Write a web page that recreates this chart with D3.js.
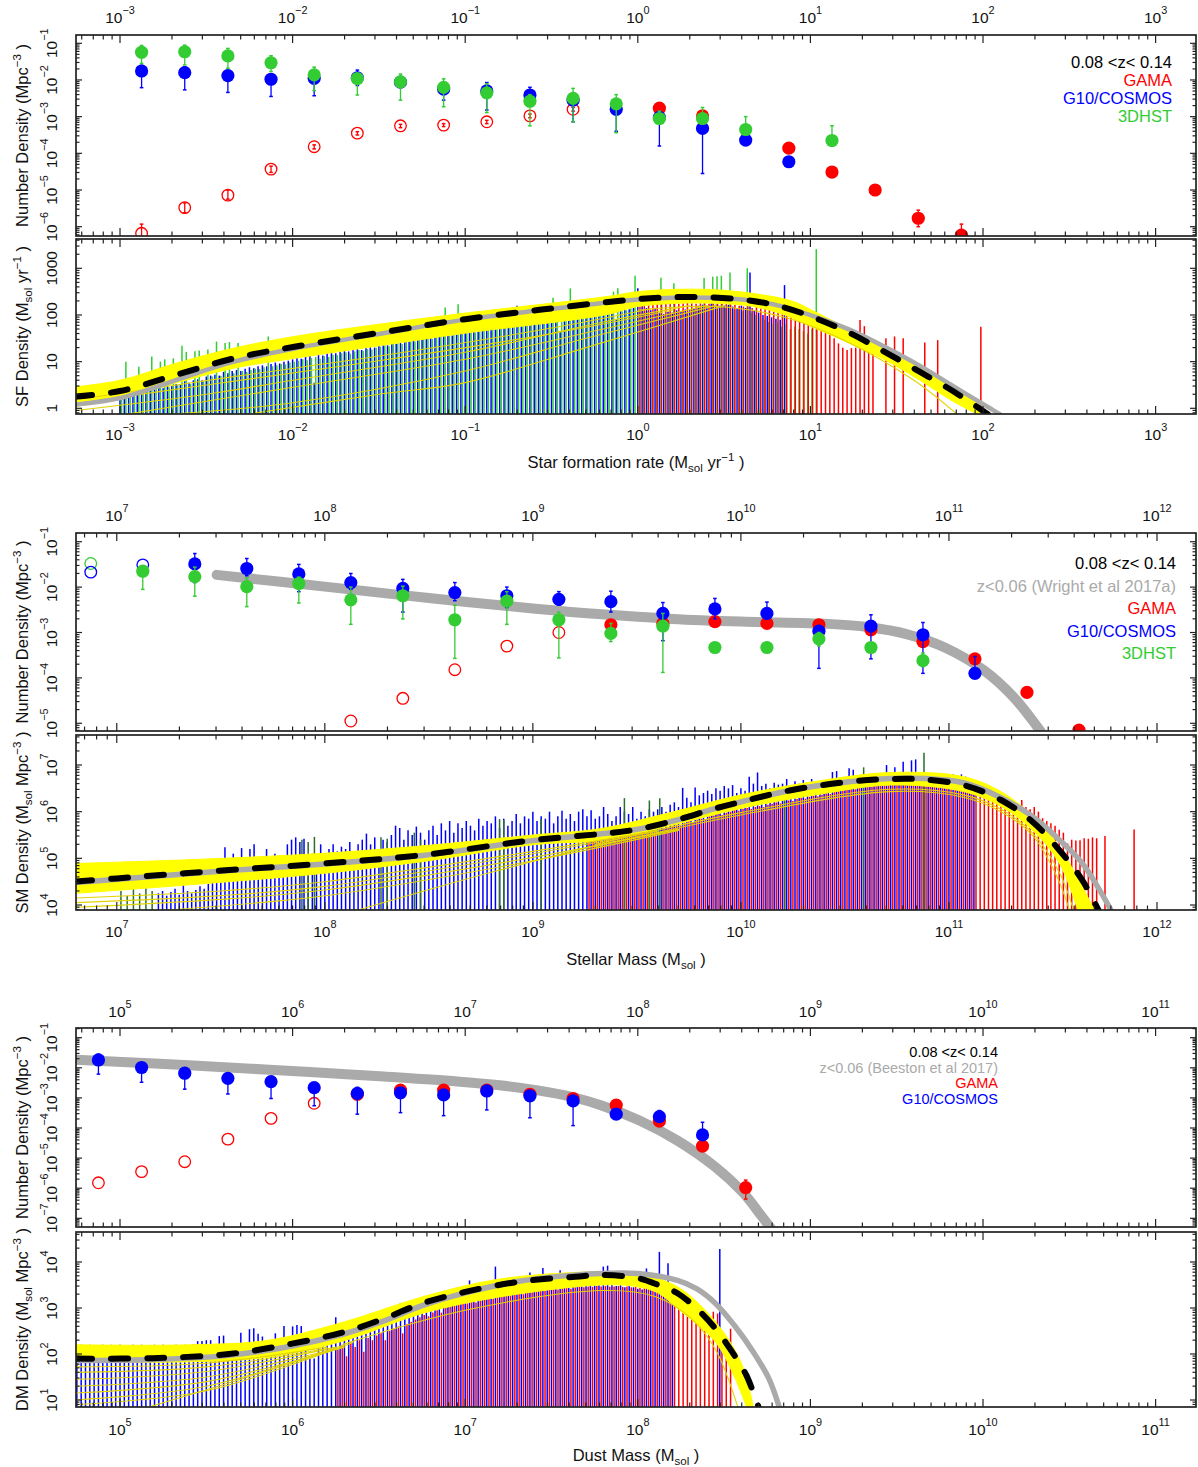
<!DOCTYPE html>
<html>
<head>
<meta charset="utf-8">
<script src="https://cdn.jsdelivr.net/npm/d3@7/dist/d3.min.js"></script>
<style>
html,body{margin:0;padding:0;background:#fff;}
svg text{font-family:"Liberation Sans",Arial,Helvetica,sans-serif;}
</style>
</head>
<body>
<svg id="chart" width="1198" height="1467"></svg>
<script>
// ================= DATA (all values are log10) =================
// ---- Star formation rate function (panel 1) ----
const sfrBins = [-2.875,-2.625,-2.375,-2.125,-1.875,-1.625,-1.375,-1.125,-0.875,-0.625,-0.375,-0.125,0.125,0.375,0.625,0.875,1.125,1.375,1.625,1.875];
const sfrGama = [null,null,null,null,null,null,null,null,null,null,null,null,-2.77,-2.98,null,-3.86,-4.51,-5.0,-5.77,-6.23];
const sfrGamaErr = [null,null,null,null,null,null,null,null,null,null,null,null,[-2.82,-2.72],[-3.05,-2.9],null,[-3.9,-3.82],[-4.56,-4.46],[-5.06,-4.94],[-6.0,-5.55],[-6.5,-5.93]];
const sfrGamaInc = [-6.18,-5.48,-5.14,-4.43,-3.82,-3.45,-3.25,-3.23,-3.14,-2.98,-2.8];
const sfrGamaIncErr = [[-6.4,-5.93],[-5.62,-5.35],[-5.25,-5.0],[-4.52,-4.35],[-3.88,-3.77],[-3.5,-3.41],[-3.3,-3.21],[-3.27,-3.19],[-3.19,-3.1],[-3.03,-2.93],[-2.85,-2.75]];
const sfrG10 = [-1.755,-1.8,-1.88,-1.98,-1.955,-1.94,-2.06,-2.25,-2.3,-2.41,-2.55,-2.8,-3.02,-3.32,-3.64,-4.23];
const sfrG10Err = [[-2.21,-1.6],[-2.27,-1.65],[-2.34,-1.75],[-2.45,-1.85],[-2.43,-1.8],[-2.15,-1.73],[-2.2,-1.95],[-2.55,-2.1],[-2.82,-2.07],[-2.6,-2.2],[-3.14,-2.45],[-3.4,-2.7],[-3.8,-2.9],[-4.55,-3.2],[-3.75,-3.55],[-4.3,-4.15]];
const sfr3d = [-1.245,-1.23,-1.345,-1.53,-1.86,-1.96,-2.05,-2.2,-2.35,-2.58,-2.5,-2.65,-3.05,-3.05,-3.35,null,-3.65];
const sfr3dErr = [[-1.55,-1.06],[-1.59,-1.05],[-1.68,-1.14],[-1.77,-1.34],[-2.29,-1.65],[-2.41,-1.85],[-2.55,-1.84],[-2.73,-1.97],[-2.89,-2.1],[-3.25,-2.4],[-3.14,-2.23],[-3.44,-2.4],[-3.2,-2.85],[-3.2,-2.75],[-3.5,-3.0],null,[-3.8,-3.25]];

// ---- SFR density (panel 2): bars on a regular bin grid ----
const sfrBarStep = 0.025;
const sfrBlueStart = -3.0;
const sfrBlue = [0.25,0.3,0.28,0.35,0.3,0.38,0.36,0.42,0.4,0.45,0.43,0.5,0.48,0.52,0.5,0.58,0.55,0.6,0.62,0.6,
 0.68,0.7,0.72,0.7,0.78,0.75,0.8,0.82,0.8,0.85,0.88,0.86,0.9,0.92,0.9,0.95,0.98,0.96,1.0,1.02,
 1.05,1.08,1.06,1.1,1.12,0.55,1.15,1.13,1.18,1.2,1.18,1.22,1.24,1.22,1.26,1.28,1.25,1.3,1.32,1.3,
 1.34,1.36,1.35,1.4,1.38,1.42,1.45,1.43,1.47,1.46,1.5,1.52,1.5,1.54,1.56,1.55,1.58,1.56,1.6,1.62,
 1.62,1.65,1.64,1.68,1.7,1.68,1.72,1.75,1.73,1.78,1.76,1.8,2.2,1.8,1.85,1.84,1.88,1.9,1.87,1.9,
 1.92,1.95,1.65,1.96,2.0,1.98,2.02,2.0,2.05,2.04,2.08,2.06,2.1,2.08,2.12,1.9,2.1,2.14,2.12,2.15,
 2.57,2.2,2.15,2.1,2.15,2.05,2.02,2.07,2.05,2.1,2.08,2.12,2.1,2.15,2.2,2.22,2.2,2.25,2.22,2.2,
 2.2,2.22,2.18,2.15,2.2,2.15,2.91,2.1,2.05,2.0,1.98,1.95,1.92,1.9,2.64];
const sfrGreenStart = -2.991;
const sfrGreen = [0.3,1.0,0.32,0.35,0.89,0.38,0.4,1.11,0.42,1.0,1.05,0.45,1.07,0.5,1.34,1.21,0.52,1.22,1.24,0.58,
 1.26,0.68,1.43,0.7,1.4,1.42,0.75,1.4,0.8,0.78,0.82,0.85,0.84,0.88,1.54,0.9,0.92,0.95,0.94,0.98,
 1.0,1.02,1.05,1.03,1.08,1.1,1.06,1.12,1.1,1.15,1.14,1.18,1.2,1.17,1.22,1.25,1.23,1.27,1.26,1.3,
 1.32,1.35,1.33,1.38,1.4,1.38,1.42,1.44,1.43,1.47,1.48,1.5,1.49,1.53,1.55,2.16,1.56,1.58,2.23,1.6,
 1.62,1.64,1.63,1.67,1.68,1.7,1.69,1.73,1.75,1.74,1.78,1.8,1.79,1.82,1.84,1.83,1.87,1.88,1.86,1.9,
 2.37,1.92,1.9,1.95,2.57,1.96,1.98,2.0,1.98,2.02,2.04,2.03,2.06,2.05,2.5,2.57,2.08,2.1,2.18,2.84,
 2.1,2.05,2.08,2.0,2.05,2.8,2.02,2.05,2.68,2.08,2.1,2.05,2.12,2.1,2.15,2.79,2.12,2.82,2.83,2.84,
 2.15,2.91,2.1,2.12,2.08,3.0,2.05,2.0,1.95,1.9,1.85,1.8,1.85,1.75,1.8,1.7,1.75,1.7,1.65,1.6,1.7,3.41];
const sfrRedStart = 0.0125;
const sfrRed = [2.2,2.22,2.25,2.24,2.25,2.23,2.25,2.26,2.25,2.24,
 2.25,2.26,2.25,2.24,2.25,2.25,2.24,2.25,2.26,2.25,
 2.24,2.23,2.22,2.2,2.18,2.2,2.15,2.17,2.14,2.15,
 2.12,2.16,2.14,2.18,2.15,2.12,2.1,2.08,2.05,2.02,
 2.0,1.96,1.85,1.75,1.64,1.5,1.39,1.3,1.25,1.29,
 1.3,1.89,1.76,1.32,1.36,null,null,1.5,null,1.54,
 null,1.5,null,null,null,null,1.41,null,null,1.46,
 null,null,null,null,null,null,null,null,null,1.75];
const sfrBandUpper = [[-3.26,0.46],[-3.0,0.6],[-2.68,0.96],[-2.34,1.29],[-1.99,1.54],[-1.46,1.82],[-1.0,2.04],[-0.19,2.39],[0.0,2.5],[0.23,2.55],[0.45,2.54],[0.67,2.46],[0.9,2.29],[1.03,2.06],[1.23,1.68],[1.43,1.27],[1.63,0.87],[1.83,0.45],[2.05,-0.13]];
const sfrBandLower = [[-3.26,0.04],[-3.0,0.21],[-2.68,0.54],[-2.34,0.86],[-1.99,1.07],[-1.46,1.36],[-1.0,1.61],[-0.19,2.0],[0.0,2.18],[0.23,2.25],[0.45,2.25],[0.67,2.18],[0.85,2.0],[1.03,1.71],[1.23,1.39],[1.43,1.04],[1.63,0.61],[1.83,0.14],[1.97,-0.13]];
const sfrFan = [
 [[-3.26,-0.05],[-2.5,0.3],[-2.0,0.6],[-1.0,1.2],[-0.2,1.85],[0.3,2.2]],
 [[-3.0,-0.15],[-2.5,0.15],[-2.0,0.45],[-1.0,1.05],[-0.2,1.7],[0.4,2.2]],
 [[-2.8,-0.15],[-2.0,0.12],[-1.0,0.8],[-0.3,1.5],[0.45,2.2]],
 [[-2.3,-0.15],[-1.5,0.3],[-1.0,0.55],[-0.3,1.3],[0.5,2.2]],
 [[-3.26,0.18],[-2.3,0.7],[-1.5,1.12],[-0.5,1.72],[0.1,2.15]],
 [[-3.26,0.1],[-2.5,0.5],[-1.5,1.02],[-0.5,1.6],[0.2,2.1]],
 [[0.0,2.1],[0.45,2.18],[0.85,1.95],[1.2,1.45],[1.6,0.6],[1.85,-0.13]]];
const sfrFit = [[-3.26,0.25],[-3.0,0.37],[-2.68,0.71],[-2.34,1.07],[-1.99,1.32],[-1.46,1.64],[-1.0,1.91],[-0.57,2.11],[-0.19,2.27],[0.0,2.34],[0.2,2.38],[0.41,2.38],[0.63,2.32],[0.83,2.18],[1.03,1.93],[1.23,1.61],[1.43,1.21],[1.63,0.79],[1.83,0.36],[2.03,-0.13]];
const sfrRef = [[-3.26,0.08],[-3.0,0.22],[-2.68,0.6],[-2.34,1.0],[-1.99,1.28],[-1.46,1.62],[-1.0,1.9],[-0.57,2.1],[-0.19,2.26],[0.0,2.33],[0.2,2.37],[0.41,2.37],[0.63,2.32],[0.83,2.19],[1.03,1.96],[1.23,1.68],[1.43,1.32],[1.63,0.92],[1.83,0.47],[2.05,-0.02],[2.1,-0.13]];

// ---- Stellar mass function (panel 3) ----
const smBins = [6.875,7.125,7.375,7.625,7.875,8.125,8.375,8.625,8.875,9.125,9.375,9.625,9.875,10.125,10.375,10.625,10.875,11.125,11.375,11.625];
const smGama = [null,null,null,null,null,null,null,null,null,null,-2.83,-2.8,-2.76,-2.8,-2.83,-2.94,-3.2,-3.58,-4.32,-5.15];
const smGamaInc = [null,null,null,null,null,-4.95,-4.45,-3.82,-3.3,-3.0];
const smG10 = [null,null,-1.49,-1.59,-1.71,-1.9,-2.03,-2.12,-2.19,-2.27,-2.32,-2.58,-2.48,-2.58,-2.97,-2.86,-3.05,-3.9];
const smG10Err = [null,null,[-1.9,-1.26],[-1.75,-1.37],[-2.1,-1.5],[-2.05,-1.7],[-2.55,-1.83],[-2.3,-1.9],[-2.45,-2.0],[-2.4,-2.1],[-2.55,-2.09],[-3.18,-2.34],[-2.7,-2.25],[-2.7,-2.33],[-3.79,-2.85],[-3.58,-2.61],[-3.9,-2.78],[-3.95,-3.53]];
const smG10Inc = [-1.67,-1.51];
const sm3d = [null,-1.65,-1.77,-1.99,-1.92,-2.28,-2.19,-2.72,-2.31,-2.72,-3.02,-2.86,-3.33,-3.33,-3.14,-3.33,-3.62];
const sm3dErr = [null,[-2.05,-1.55],[-2.2,-1.56],[-2.43,-1.8],[-2.35,-1.78],[-2.82,-2.0],[-2.7,-1.98],[-3.57,-2.4],[-2.82,-2.1],[-3.56,-2.55],[-3.2,-2.8],[-3.88,-2.58],null,null,[-3.3,-3.0],null,[-3.75,-3.45]];
const sm3dInc = [-1.48];
const smWright = [[7.48,-1.73],[8.0,-1.99],[8.5,-2.24],[9.0,-2.47],[9.33,-2.6],[9.67,-2.7],[10.0,-2.76],[10.42,-2.81],[10.61,-2.88],[10.8,-3.04],[10.98,-3.33],[11.17,-3.84],[11.31,-4.42],[11.42,-5.05],[11.52,-5.7]];

// ---- SM density (panel 4) ----
const smBarStep = 0.02;
const smBlueStart = 7.2;
const smBlue = [4.25,4.3,4.2,4.28,4.35,4.22,4.9,4.3,4.25,4.32,
 4.4,4.35,4.45,4.6,4.5,4.55,5.24,4.6,5.1,4.7,
 5.22,4.7,5.2,5.3,4.8,5.05,5.2,4.8,5.1,4.9,
 5.0,5.3,5.4,5.45,5.35,5.42,4.9,5.1,5.0,5.3,
 5.1,5.2,5.3,5.15,5.25,5.2,5.35,5.1,5.3,5.4,
 5.53,5.3,5.45,5.2,5.4,5.35,5.5,5.7,5.65,5.4,
 5.6,5.5,5.68,5.55,5.4,5.6,5.7,5.5,5.75,5.6,
 5.8,5.55,5.75,5.65,5.8,5.7,5.6,5.85,5.7,5.8,
 5.75,5.9,5.65,5.85,5.7,5.8,5.95,5.75,5.9,5.85,
 6.0,5.8,5.9,5.85,6.0,5.75,5.9,6.02,5.85,5.95,
 5.8,6.0,6.05,5.9,6.03,5.85,5.9,6.1,5.95,5.8,
 5.9,6.1,6.0,5.95,6.1,5.85,6.0,5.9,6.05,6.0,
 6.05,6.1,6.0,6.15,6.2,6.1,6.51,6.3,6.2,6.52,
 6.35,6.4,6.45,6.38,6.5,6.45,6.55,6.5,6.57,6.4,
 6.5,6.45,6.75,6.6,6.84,6.55,6.6,6.5,6.62,6.58,
 6.6,6.7,6.55,6.65,6.6,6.68,6.62,6.7,6.6,6.65,
 6.65,6.7,6.85,6.87,6.72,6.68,6.93,6.9,6.75,6.7,
 6.72,6.8,6.75,6.78,6.8,7.0,6.85,6.95,6.8,7.07,
 6.85,7.1,7.12,6.8,6.75,6.7,6.78,6.72,6.7,6.65,
 6.7,6.8,6.78,6.8,6.75,6.6,6.5];
const smRedStart = 9.27;
const smRed = [5.38,5.4,5.42,5.41,5.44,5.45,5.43,5.47,5.48,5.5,
 5.52,5.5,5.55,5.57,5.56,5.6,5.62,5.6,5.65,5.67,
 5.7,5.72,5.7,5.76,5.8,5.78,5.83,5.85,5.84,5.9,
 5.92,5.95,5.93,5.98,6.0,6.03,6.02,6.06,6.08,6.06,
 6.1,6.12,6.1,6.15,6.17,6.2,6.18,6.22,6.24,6.23,
 6.27,6.3,6.28,6.32,6.34,6.33,6.37,6.4,6.38,6.42,
 6.44,6.45,6.47,6.5,6.48,6.52,6.54,6.53,6.56,6.57,
 6.58,6.6,6.59,6.61,6.6,6.62,6.6,6.61,6.6,6.59,
 6.58,6.57,6.56,6.55,6.53,6.52,6.5,6.48,6.47,6.45,
 6.44,6.42,6.4,6.38,6.35,6.33,6.3,6.28,6.43,6.26,
 6.2,6.22,6.18,6.15,6.25,6.1,6.05,6.1,6.0,5.86,
 5.8,5.75,5.7,5.61,5.55,5.32,5.4,5.38,5.39,5.43,
 5.42,5.45,5.43,null,5.48,null,null,null,null,null,null,5.62];
const smGreenBars = [[7.02,4.3],[7.05,4.2],[7.08,4.35],[7.11,4.25],[7.14,4.4],[7.17,4.3],[7.89,5.4],[7.92,5.35],[7.95,5.46],[8.27,5.45],[8.3,5.42],[8.43,5.55],[8.46,5.4],[8.84,5.84],[8.86,5.82],[9.04,5.84],[9.44,6.29],[9.56,6.24],[9.61,6.29],[10.21,6.54],[10.59,6.95],[10.88,7.26]];
const smBandUpper = [[6.8,4.89],[7.4,4.98],[8.0,5.11],[8.5,5.28],[9.0,5.5],[9.33,5.64],[9.66,5.98],[10.0,6.36],[10.36,6.65],[10.72,6.84],[11.07,6.75],[11.25,6.43],[11.4,5.92],[11.53,5.25],[11.64,4.4],[11.7,3.88]];
const smBandLower = [[6.8,4.25],[7.4,4.45],[8.0,4.68],[8.5,4.95],[9.0,5.29],[9.33,5.39],[9.66,5.7],[10.0,6.07],[10.36,6.36],[10.72,6.57],[11.07,6.43],[11.25,6.11],[11.4,5.61],[11.53,4.9],[11.62,3.88]];
const smFan = [
 [[6.8,4.15],[7.5,4.3],[8.0,4.5],[9.0,5.15],[9.6,5.6]],
 [[6.8,4.05],[7.5,4.2],[8.0,4.4],[9.0,5.1],[9.6,5.58]],
 [[6.8,3.95],[7.5,4.12],[8.0,4.32],[9.0,5.02],[9.7,5.62]],
 [[7.2,3.88],[8.0,4.2],[9.0,4.95],[9.7,5.6]],
 [[8.15,3.88],[8.8,4.7],[9.33,5.3],[9.7,5.62]],
 [[9.3,5.3],[10.0,5.98],[10.72,6.48],[11.07,6.36],[11.25,6.05],[11.4,5.55],[11.53,4.7],[11.6,3.88]],
 [[9.3,5.25],[10.0,5.93],[10.72,6.43],[11.07,6.31],[11.25,6.0],[11.4,5.5],[11.52,4.6],[11.58,3.88]]];
const smFit = [[6.8,4.5],[7.0,4.57],[7.54,4.75],[8.0,4.89],[8.47,5.07],[9.0,5.39],[9.32,5.52],[9.5,5.62],[9.69,5.82],[9.87,6.06],[10.0,6.21],[10.24,6.46],[10.52,6.64],[10.72,6.7],[10.88,6.69],[11.07,6.57],[11.25,6.25],[11.4,5.79],[11.53,5.18],[11.64,4.54],[11.72,3.88]];
const smRef = [[6.8,4.48],[7.0,4.55],[7.54,4.74],[8.0,4.88],[8.47,5.06],[9.0,5.38],[9.32,5.52],[9.5,5.62],[9.69,5.82],[9.87,6.06],[10.0,6.21],[10.24,6.46],[10.52,6.64],[10.72,6.71],[10.88,6.71],[11.07,6.62],[11.25,6.3],[11.4,5.9],[11.53,5.4],[11.64,4.9],[11.72,4.35],[11.78,3.88]];

// ---- Dust mass function (panel 5) ----
const dmBins = [4.875,5.125,5.375,5.625,5.875,6.125,6.375,6.625,6.875,7.125,7.375,7.625,7.875,8.125,8.375,8.625];
const dmG10 = [-1.74,-1.99,-2.18,-2.35,-2.46,-2.66,-2.85,-2.83,-2.9,-2.77,-2.93,-3.1,-3.54,-3.62,-4.23];
const dmG10Err = [[-2.21,-1.55],[-2.48,-1.85],[-2.71,-2.05],[-2.87,-2.22],[-3.02,-2.35],[-3.26,-2.52],[-3.54,-2.65],[-3.49,-2.7],[-3.59,-2.75],[-3.4,-2.62],[-3.66,-2.78],[-3.92,-2.95],[-3.62,-3.45],[-3.7,-3.42],[-4.3,-3.81]];
const dmGama = [null,null,null,null,null,null,-2.88,-2.74,-2.74,-2.74,-2.88,-3.02,-3.24,-3.77,-4.6,-5.98];
const dmGamaErr = [null,null,null,null,null,null,null,null,null,null,null,null,null,null,null,[-6.36,-5.73]];
const dmGamaInc = [-5.82,-5.45,-5.12,-4.37,-3.68,-3.18];
const dmBeeston = [[4.745,-1.73],[5.2,-1.86],[5.63,-1.99],[6.1,-2.14],[6.53,-2.29],[6.97,-2.46],[7.2,-2.58],[7.42,-2.75],[7.62,-2.97],[7.79,-3.25],[8.01,-3.75],[8.23,-4.42],[8.45,-5.3],[8.61,-6.15],[8.72,-6.95],[8.8,-7.55]];

// ---- DM density (panel 6) ----
const dmBarStep = 0.025;
const dmBlueStart = 4.75;
const dmBlue = [2.18,2.2,2.15,2.2,2.0,2.18,2.2,2.1,2.2,2.19,
 2.2,2.05,2.18,2.2,2.15,2.2,2.0,2.19,2.2,2.1,
 2.2,2.18,2.0,2.2,2.15,2.2,2.1,2.21,2.28,2.28,
 2.3,2.3,2.2,2.39,2.4,2.1,2.2,2.2,2.46,2.2,
 2.54,2.56,2.44,2.38,2.1,2.2,2.45,2.3,2.61,2.3,
 2.6,2.63,2.61,2.3,1.9,1.9,2.45,2.3,2.4,2.55,
 2.8,2.45,2.5,2.55,2.6,2.5,2.65,2.78,2.6,2.7,
 2.75,2.8,2.85,2.8,2.9,3.11,2.95,2.9,3.0,3.0,
 3.05,3.0,3.1,3.05,3.15,3.1,3.2,3.15,3.44,3.2,
 3.25,3.6,3.2,3.3,3.25,3.35,3.3,3.9,3.35,3.3,
 3.4,3.35,3.45,3.4,3.45,3.77,3.4,3.45,3.87,3.45,
 3.5,3.45,3.82,3.5,3.45,3.5,3.48,3.5,3.52,3.5,
 3.5,3.52,3.9,3.92,3.5,3.48,3.5,3.45,3.48,3.45,
 3.42,3.4,3.86,3.4,3.35,4.22,3.3,3.97,3.2,null,
 null,null,null,null,null,null,null,null,null,4.28,null];
const dmRedStart = 6.2625;
const dmRed = [2.1,2.2,1.95,2.25,2.15,2.3,2.05,2.35,2.3,2.4,
 2.45,2.3,2.5,2.55,2.6,2.45,2.65,2.7,2.75,2.8,
 2.85,2.82,2.9,2.95,2.9,3.0,3.02,3.05,3.08,3.1,
 3.1,3.15,3.12,3.18,3.2,3.22,3.2,3.25,3.27,3.26,
 3.3,3.28,3.32,3.3,3.35,3.34,3.36,3.38,3.37,3.4,
 3.42,3.4,3.43,3.44,3.42,3.45,3.46,3.45,3.47,3.46,
 3.48,3.47,3.48,3.46,3.47,3.48,3.46,3.47,3.45,3.46,
 3.44,3.43,3.42,3.4,3.38,3.36,3.34,3.3,3.28,3.24,
 3.15,3.09,3.04,2.99,2.93,2.88,2.74,2.92,2.88,2.22,2.36,2.55];
const dmBandUpper = [[4.74,2.2],[5.41,2.2],[5.86,2.3],[6.3,2.7],[6.75,3.24],[7.2,3.63],[7.79,3.79],[8.0,3.75],[8.23,3.46],[8.45,2.7],[8.6,1.8],[8.67,0.84]];
const dmBandLower = [[4.74,1.83],[5.41,1.83],[5.86,1.93],[6.3,2.29],[6.75,2.88],[7.2,3.24],[7.79,3.5],[8.0,3.46],[8.12,3.32],[8.23,2.99],[8.45,2.26],[8.56,1.5],[8.63,0.84]];
const dmFan = [
 [[4.74,1.72],[5.5,1.8],[6.2,2.15]],
 [[4.74,1.6],[5.5,1.72],[6.2,2.12]],
 [[4.74,1.45],[5.5,1.62],[6.25,2.15]],
 [[4.74,1.3],[5.5,1.5],[6.25,2.12]],
 [[4.74,1.15],[5.5,1.4],[6.3,2.15]],
 [[4.74,1.0],[5.5,1.3],[6.3,2.2]],
 [[4.74,0.9],[5.5,1.2],[6.35,2.25]],
 [[5.16,0.84],[5.7,1.45],[6.26,2.12]],
 [[6.3,2.22],[7.0,2.95],[7.8,3.38],[8.1,3.25],[8.3,2.8],[8.45,2.1],[8.58,0.84]]];
const dmFit = [[4.74,1.9],[5.19,1.91],[5.63,2.0],[5.99,2.22],[6.3,2.48],[6.53,2.77],[6.75,3.1],[7.0,3.35],[7.31,3.57],[7.64,3.68],[7.79,3.72],[8.0,3.65],[8.12,3.5],[8.23,3.32],[8.34,2.99],[8.45,2.55],[8.56,1.97],[8.63,1.53],[8.7,0.84]];
const dmRef = [[4.74,1.86],[5.19,1.88],[5.63,1.97],[5.99,2.17],[6.3,2.44],[6.53,2.72],[6.75,3.05],[7.0,3.33],[7.31,3.58],[7.64,3.72],[7.79,3.75],[8.0,3.75],[8.23,3.6],[8.34,3.42],[8.45,3.1],[8.56,2.62],[8.67,2.04],[8.76,1.46],[8.82,0.84]];

// ---- tick labels (exponents) ----
const sfrXTicks = [-3,-2,-1,0,1,2,3];
const smXTicks = [7,8,9,10,11,12];
const dmXTicks = [5,6,7,8,9,10,11];
const sfrNTicks = [-6,-5,-4,-3,-2,-1];
const sfrDTicks = [0,1,2,3];
const smNTicks = [-5,-4,-3,-2,-1];
const smDTicks = [4,5,6,7];
const dmNTicks = [-7,-6,-5,-4,-3,-2,-1];
const dmDTicks = [1,2,3,4];

// ================= LAYOUT & STYLE =================
const L = 76, R = 1196;
const RED = '#ff0000', BLUE = '#0000ff', GREEN = '#33cc33', DKGREEN = '#2a6e2a', GRAY = '#aaaaaa', YEL = '#ffff00', YLINE = '#e2d400';
const TICKFS = 15.5, TITLEFS = 16.5, LEGFS = 16.5;
const svg = d3.select('#chart');
const defs = svg.append('defs');

function makePanel(id, top, bottom, xd, yd){
  const x = d3.scaleLog().domain([10**xd[0], 10**xd[1]]).range([L, R]);
  const y = d3.scaleLog().domain([10**yd[0], 10**yd[1]]).range([bottom, top]);
  defs.append('clipPath').attr('id','clip'+id).append('rect')
    .attr('x',L).attr('y',top).attr('width',R-L).attr('height',bottom-top);
  const g = svg.append('g');
  const plot = g.append('g').attr('clip-path',`url(#clip${id})`);
  return {g, plot, top, bottom, xd, yd, X: v => x(10**v), Y: v => y(10**v)};
}

function rich(sel, parts, fs, supRaise, subDrop){
  let cur = 0;
  parts.forEach(p => {
    const want = p.sup ? -fs*supRaise : (p.sub ? fs*subDrop : 0);
    const ts = sel.append('tspan').text(p.t);
    if (want !== cur) ts.attr('dy', want - cur);
    if (p.sup || p.sub) ts.attr('font-size', fs*0.7);
    cur = want;
  });
}
const expParts = e => [{t:'10'},{t:(e<0?'\u2212'+(-e):String(e)), sup:true}];

function axes(P, opt){
  const g = P.g.append('g').attr('stroke','#222').attr('stroke-width',1.2);
  const lines = [];
  for (let e=Math.floor(P.xd[0]); e<=Math.ceil(P.xd[1]); e++){
    for (let m=1; m<=9; m++){
      const v = e + Math.log10(m);
      if (v < P.xd[0] || v > P.xd[1]) continue;
      const len = m===1 ? 8 : 4.5, px = P.X(v);
      lines.push([px,P.top,px,P.top+len],[px,P.bottom,px,P.bottom-len]);
    }
  }
  for (let e=Math.floor(P.yd[0]); e<=Math.ceil(P.yd[1]); e++){
    for (let m=1; m<=9; m++){
      const v = e + Math.log10(m);
      if (v < P.yd[0] || v > P.yd[1]) continue;
      const len = m===1 ? 6 : 3.5, py = P.Y(v);
      lines.push([L,py,L+len,py],[R,py,R-len,py]);
    }
  }
  g.selectAll('line').data(lines).join('line')
    .attr('x1',d=>d[0]).attr('y1',d=>d[1]).attr('x2',d=>d[2]).attr('y2',d=>d[3]);
  P.g.append('rect').attr('x',L).attr('y',P.top).attr('width',R-L).attr('height',P.bottom-P.top)
    .attr('fill','none').attr('stroke','#222').attr('stroke-width',1.7);
  if (opt.xTicks){
    opt.xTicks.forEach(e => {
      const t = P.g.append('text').attr('x',P.X(e)).attr('y',opt.xLabelY)
        .attr('text-anchor','middle').attr('font-size',TICKFS).attr('fill','#111');
      rich(t, expParts(e), TICKFS, 0.55, 0);
    });
  }
  opt.yTicks.forEach(e => {
    const t = P.g.append('text').attr('transform',`translate(57,${P.Y(e)}) rotate(-90)`)
      .attr('text-anchor','middle').attr('font-size',TICKFS).attr('fill','#111');
    rich(t, opt.plainY ? [{t:String(10**e)}] : expParts(e), TICKFS, 0.55, 0);
  });
  const yt = P.g.append('text').attr('transform',`translate(28,${(P.top+P.bottom)/2}) rotate(-90)`)
    .attr('text-anchor','middle').attr('font-size',TITLEFS).attr('fill','#111');
  rich(yt, opt.yTitle, TITLEFS, 0.45, 0.25);
}

function xTitle(parts, y){
  const t = svg.append('text').attr('x',(L+R)/2).attr('y',y).attr('text-anchor','middle')
    .attr('font-size',TITLEFS).attr('fill','#111');
  rich(t, parts, TITLEFS, 0.45, 0.25);
}

function gridBars(P, start, step, heights, color, w){
  const data = heights.map((h,i)=>({x:start+i*step, h})).filter(d=>d.h!=null);
  P.plot.append('g').selectAll('line').data(data).join('line')
    .attr('x1',d=>P.X(d.x)).attr('x2',d=>P.X(d.x))
    .attr('y1',P.bottom+2).attr('y2',d=>P.Y(d.h))
    .attr('stroke',color).attr('stroke-width',w);
}
function pairBars(P, pairs, color, w){
  P.plot.append('g').selectAll('line').data(pairs).join('line')
    .attr('x1',d=>P.X(d[0])).attr('x2',d=>P.X(d[0]))
    .attr('y1',P.bottom+2).attr('y2',d=>P.Y(d[1]))
    .attr('stroke',color).attr('stroke-width',w);
}
function lineGen(P){
  return d3.line().x(d=>P.X(d[0])).y(d=>P.Y(d[1])).curve(d3.curveCatmullRom.alpha(0.5));
}
function band(P, up, lo){
  const ln = lineGen(P);
  const a = ln(up), b = ln(lo.slice().reverse());
  P.plot.append('path').attr('d', a + 'L' + b.slice(1) + 'Z').attr('fill',YEL).attr('stroke',YEL).attr('stroke-width',1);
}
function curve(P, pts, color, w, dash){
  const p = P.plot.append('path').attr('d', lineGen(P)(pts)).attr('fill','none')
    .attr('stroke',color).attr('stroke-width',w).attr('stroke-linecap','round').attr('stroke-linejoin','round');
  if (dash) p.attr('stroke-dasharray',dash);
}
function points(P, bins, vals, errs, color, open){
  const g = P.plot.append('g');
  vals.forEach((v,i) => {
    if (v == null) return;
    const cx = P.X(bins[i]);
    const e = errs ? errs[i] : null;
    if (e){
      g.append('line').attr('x1',cx).attr('x2',cx).attr('y1',P.Y(e[0])).attr('y2',P.Y(e[1]))
        .attr('stroke',color).attr('stroke-width',1.3);
      [e[0],e[1]].forEach(ev => g.append('line').attr('x1',cx-1.8).attr('x2',cx+1.8)
        .attr('y1',P.Y(ev)).attr('y2',P.Y(ev)).attr('stroke',color).attr('stroke-width',1.5));
    }
    const c = g.append('circle').attr('cx',cx).attr('cy',P.Y(v));
    if (open) c.attr('r',5.8).attr('fill','none').attr('stroke',color).attr('stroke-width',1.3);
    else c.attr('r',6.6).attr('fill',color);
  });
}
function legend(xr, y0, dy, items, fs){
  items.forEach((it,i) => svg.append('text').attr('x',xr).attr('y',y0+i*dy).attr('text-anchor','end')
    .attr('font-size',fs).attr('fill',it[1]).text(it[0]));
}

const nTitle = [{t:'Number Density (Mpc'},{t:'\u22123',sup:true},{t:' )'}];

// ================= PANEL 1 : SFR function =================
const p1 = makePanel('p1', 35, 236, [-3.255,3.234], [-6.254,-0.774]);
points(p1, sfrBins, sfrGamaInc, sfrGamaIncErr, RED, true);
points(p1, sfrBins, sfrGama, sfrGamaErr, RED, false);
points(p1, sfrBins, sfrG10, sfrG10Err, BLUE, false);
points(p1, sfrBins, sfr3d, sfr3dErr, GREEN, false);
axes(p1, {xTicks:sfrXTicks, xLabelY:23, yTicks:sfrNTicks, yTitle:nTitle});
legend(1172, 68, 18, [['0.08 <z< 0.14','#000'],['GAMA',RED],['G10/COSMOS',BLUE],['3DHST',GREEN]], LEGFS);

// ================= PANEL 2 : SFR density =================
const p2 = makePanel('p2', 239, 414, [-3.255,3.234], [-0.122,3.628]);
gridBars(p2, sfrBlueStart, sfrBarStep, sfrBlue, BLUE, 1.5);
gridBars(p2, sfrGreenStart, sfrBarStep, sfrGreen, GREEN, 1.5);
gridBars(p2, sfrRedStart, sfrBarStep, sfrRed, RED, 1.5);
band(p2, sfrBandUpper, sfrBandLower);
sfrFan.forEach(f => curve(p2, f, YLINE, 1.1));
curve(p2, sfrRef, GRAY, 4.5);
curve(p2, sfrFit, '#000', 6, '17 19');
axes(p2, {xTicks:sfrXTicks, xLabelY:440, yTicks:sfrDTicks, plainY:true,
  yTitle:[{t:'SF Density (M'},{t:'sol',sub:true},{t:' yr'},{t:'\u22121',sup:true},{t:' )'}]});
xTitle([{t:'Star formation rate (M'},{t:'sol',sub:true},{t:' yr'},{t:'\u22121',sup:true},{t:' )'}], 468);

// ================= PANEL 3 : Stellar mass function =================
const p3 = makePanel('p3', 533, 731, [6.804,12.1875], [-5.17,-0.808]);
curve(p3, smWright, GRAY, 10);
points(p3, smBins, smGamaInc, null, RED, true);
points(p3, smBins, sm3dInc, null, GREEN, true);
points(p3, smBins, smG10Inc, null, BLUE, true);
points(p3, smBins, smGama, null, RED, false);
points(p3, smBins, smG10, smG10Err, BLUE, false);
points(p3, smBins, sm3d, sm3dErr, GREEN, false);
axes(p3, {xTicks:smXTicks, xLabelY:521, yTicks:smNTicks, yTitle:nTitle});
legend(1176, 569, 22.5, [['0.08 <z< 0.14','#000'],['z<0.06 (Wright et al 2017a)',GRAY],['GAMA',RED],['G10/COSMOS',BLUE],['3DHST',GREEN]], LEGFS);

// ================= PANEL 4 : SM density =================
const p4 = makePanel('p4', 735, 910, [6.804,12.1875], [3.893,7.643]);
gridBars(p4, smBlueStart, smBarStep, smBlue, BLUE, 1.5);
gridBars(p4, smRedStart, smBarStep, smRed, RED, 1.5);
pairBars(p4, smGreenBars, DKGREEN, 1.5);
band(p4, smBandUpper, smBandLower);
smFan.forEach(f => curve(p4, f, YLINE, 1.1));
curve(p4, smRef, GRAY, 5.5);
curve(p4, smFit, '#000', 6, '17 19');
axes(p4, {xTicks:smXTicks, xLabelY:937, yTicks:smDTicks,
  yTitle:[{t:'SM Density (M'},{t:'sol',sub:true},{t:' Mpc'},{t:'\u22123',sup:true},{t:' )'}]});
xTitle([{t:'Stellar Mass (M'},{t:'sol',sub:true},{t:' )'}], 965);

// ================= PANEL 5 : Dust mass function =================
const p5 = makePanel('p5', 1028, 1227, [4.745,11.234], [-7.289,-0.678]);
curve(p5, dmBeeston, GRAY, 10);
points(p5, dmBins, dmGamaInc, null, RED, true);
points(p5, dmBins, dmGama, dmGamaErr, RED, false);
points(p5, dmBins, dmG10, dmG10Err, BLUE, false);
axes(p5, {xTicks:dmXTicks, xLabelY:1017, yTicks:dmNTicks, yTitle:nTitle});
legend(998, 1057, 15.5, [['0.08 <z< 0.14','#000'],['z<0.06 (Beeston et al 2017)',GRAY],['GAMA',RED],['G10/COSMOS',BLUE]], 14.5);

// ================= PANEL 6 : DM density =================
const p6 = makePanel('p6', 1232, 1407, [4.745,11.234], [0.848,4.652]);
gridBars(p6, dmBlueStart, dmBarStep, dmBlue, BLUE, 1.5);
gridBars(p6, dmRedStart, dmBarStep, dmRed, RED, 1.5);
band(p6, dmBandUpper, dmBandLower);
dmFan.forEach(f => curve(p6, f, YLINE, 1.1));
curve(p6, dmRef, GRAY, 5.5);
curve(p6, dmFit, '#000', 6, '17 19');
axes(p6, {xTicks:dmXTicks, xLabelY:1435, yTicks:dmDTicks,
  yTitle:[{t:'DM Density (M'},{t:'sol',sub:true},{t:' Mpc'},{t:'\u22123',sup:true},{t:' )'}]});
xTitle([{t:'Dust Mass (M'},{t:'sol',sub:true},{t:' )'}], 1461);
</script>
</body>
</html>
